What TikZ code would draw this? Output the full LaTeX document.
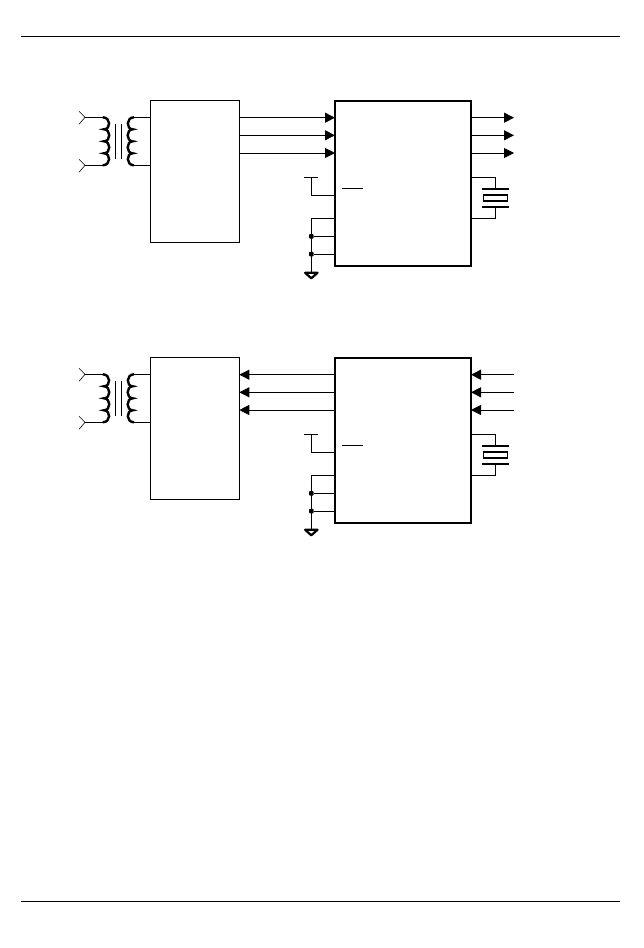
\documentclass[tikz,border=0pt]{standalone}
\usepackage{xcolor}
\usetikzlibrary{arrows.meta, positioning}

\begin{document}
\begin{tikzpicture}[
    x=1pt, y=-1pt,
    ampbox/.style={draw, line width=1pt, minimum width=89pt, minimum height=142pt, inner sep=0pt, outer sep=0pt, anchor=north west},
    chipbox/.style={draw, line width=2pt, minimum width=136pt, minimum height=165pt, inner sep=0pt, outer sep=0pt, anchor=north west},
    wire/.style={line width=0.9pt},
    arrow/.style={wire, -{Triangle[length=10pt, width=10pt]}},
    junction/.style={rectangle, rounded corners=0.8pt, fill, inner sep=0pt, minimum size=4.5pt},
    transformer/.pic={
        % input pins
        \draw[line width=0.6pt] (-6,-6) -- (0,0) -- (-6,7);
        \draw[line width=0.6pt] (-6,42) -- (0,48) -- (-6,55);
        \draw[wire] (0,0) -- (17.7,0);
        \draw[wire] (0,48) -- (17.7,48);
        % windings
        \draw[line width=2.4pt] (17.7,0) .. controls (26,0) and (26,12) .. (19,12) .. controls (26,12) and (26,24) .. (19,24) .. controls (26,24) and (26,36) .. (19,36) .. controls (26,36) and (26,48) .. (17.7,48);
        \draw[line width=2.4pt] (49,0) .. controls (41,0) and (41,12) .. (47.7,12) .. controls (41,12) and (41,24) .. (47.7,24) .. controls (41,24) and (41,36) .. (47.7,36) .. controls (41,36) and (41,48) .. (49,48);
        % core
        \draw[line width=0.7pt] (30.3,7) -- (30.3,42);
        \draw[line width=0.7pt] (36.3,7) -- (36.3,42);
        \coordinate (-top) at (49,0);
        \coordinate (-bot) at (49,48);
    },
    crystal/.pic={
        \draw[line width=1.8pt] (-13,-9) -- (13.5,-9);
        \draw[line width=1.8pt] (-13,9) -- (13.5,9);
        \draw[line width=1.6pt] (-12,-3) rectangle (12,3);
        \coordinate (-top) at (0,-9);
        \coordinate (-bot) at (0,9);
    },
    ground/.pic={
        \draw[line width=2.2pt, line join=round] (-6.2,0) -- (6.2,0) -- (0,5.5) -- cycle;
        \coordinate (-top) at (0,0);
    }
]
\useasboundingbox (0,0) rectangle (643,948);

% Page rules
\coordinate (ruleal) at (21,36.6);
\coordinate (rulear) at (620,36.6);
\coordinate (rulebl) at (21,901);
\coordinate (rulebr) at (620,901);
\draw[wire] (ruleal) -- (rulear);
\draw[wire] (rulebl) -- (rulebr);

% Upper circuit
\node[ampbox] (ampa) at (150.3,100.3) {};
\node[chipbox] (chipa) at (335,101) {};
\pic (xfa) at (85,117.3) {transformer};
\draw[wire] (xfa-top) -- (xfa-top -| ampa.west);
\draw[wire] (xfa-bot) -- (xfa-bot -| ampa.west);

\coordinate[below=17.4pt of ampa.north east] (ampa1);
\coordinate[below=35pt of ampa.north east] (ampa2);
\coordinate[below=52.7pt of ampa.north east] (ampa3);
\draw[arrow] (ampa1) -- (ampa1 -| chipa.west);
\draw[arrow] (ampa2) -- (ampa2 -| chipa.west);
\draw[arrow] (ampa3) -- (ampa3 -| chipa.west);

\coordinate (outa1) at (514,117.7);
\coordinate (outa2) at (514,135.3);
\coordinate (outa3) at (514,153);
\draw[arrow] (outa1 -| chipa.east) -- (outa1);
\draw[arrow] (outa2 -| chipa.east) -- (outa2);
\draw[arrow] (outa3 -| chipa.east) -- (outa3);

\coordinate (vcca) at (311.3,177.3);
\draw[wire] (304,177.3) -- (318.3,177.3);
\draw[wire] (vcca) |- (chipa.west |- 0,195.3);
\draw[line width=0.7pt] (342,188.3) -- (363,188.3);

\pic (gnda) at (311.3,272.8) {ground};
\coordinate (gnda1) at (311.3,218.3);
\node[junction] (gnda2) at (311.3,236.3) {};
\node[junction] (gnda3) at (311.3,254) {};
\draw[wire] (chipa.west |- gnda1) -- (gnda1) -- (gnda-top);
\draw[wire] (gnda2) -- (chipa.west |- gnda2);
\draw[wire] (gnda3) -- (chipa.west |- gnda3);

\pic (xtala) at (495.3,198) {crystal};
\draw[wire] (chipa.east |- 0,177.3) -| (xtala-top);
\draw[wire] (chipa.east |- 0,218.3) -| (xtala-bot);

% Lower circuit
\node[ampbox] (ampb) at (150.3,357.3) {};
\node[chipbox] (chipb) at (335,358) {};
\pic (xfb) at (85,374.3) {transformer};
\draw[wire] (xfb-top) -- (xfb-top -| ampb.west);
\draw[wire] (xfb-bot) -- (xfb-bot -| ampb.west);

\coordinate[below=17.4pt of ampb.north east] (ampb1);
\coordinate[below=35pt of ampb.north east] (ampb2);
\coordinate[below=52.7pt of ampb.north east] (ampb3);
\draw[arrow] (ampb1 -| chipb.west) -- (ampb1);
\draw[arrow] (ampb2 -| chipb.west) -- (ampb2);
\draw[arrow] (ampb3 -| chipb.west) -- (ampb3);

\coordinate (inb1) at (514,374.7);
\coordinate (inb2) at (514,392.3);
\coordinate (inb3) at (514,410);
\draw[arrow] (inb1) -- (inb1 -| chipb.east);
\draw[arrow] (inb2) -- (inb2 -| chipb.east);
\draw[arrow] (inb3) -- (inb3 -| chipb.east);

\coordinate (vccb) at (311.3,434.3);
\draw[wire] (304,434.3) -- (318.3,434.3);
\draw[wire] (vccb) |- (chipb.west |- 0,452.3);
\draw[line width=0.7pt] (342,445.3) -- (363,445.3);

\pic (gndb) at (311.3,529.8) {ground};
\coordinate (gndb1) at (311.3,475.3);
\node[junction] (gndb2) at (311.3,493.3) {};
\node[junction] (gndb3) at (311.3,511) {};
\draw[wire] (chipb.west |- gndb1) -- (gndb1) -- (gndb-top);
\draw[wire] (gndb2) -- (chipb.west |- gndb2);
\draw[wire] (gndb3) -- (chipb.west |- gndb3);

\pic (xtalb) at (495.3,455) {crystal};
\draw[wire] (chipb.east |- 0,434.3) -| (xtalb-top);
\draw[wire] (chipb.east |- 0,475.3) -| (xtalb-bot);
\end{tikzpicture}
\end{document}
